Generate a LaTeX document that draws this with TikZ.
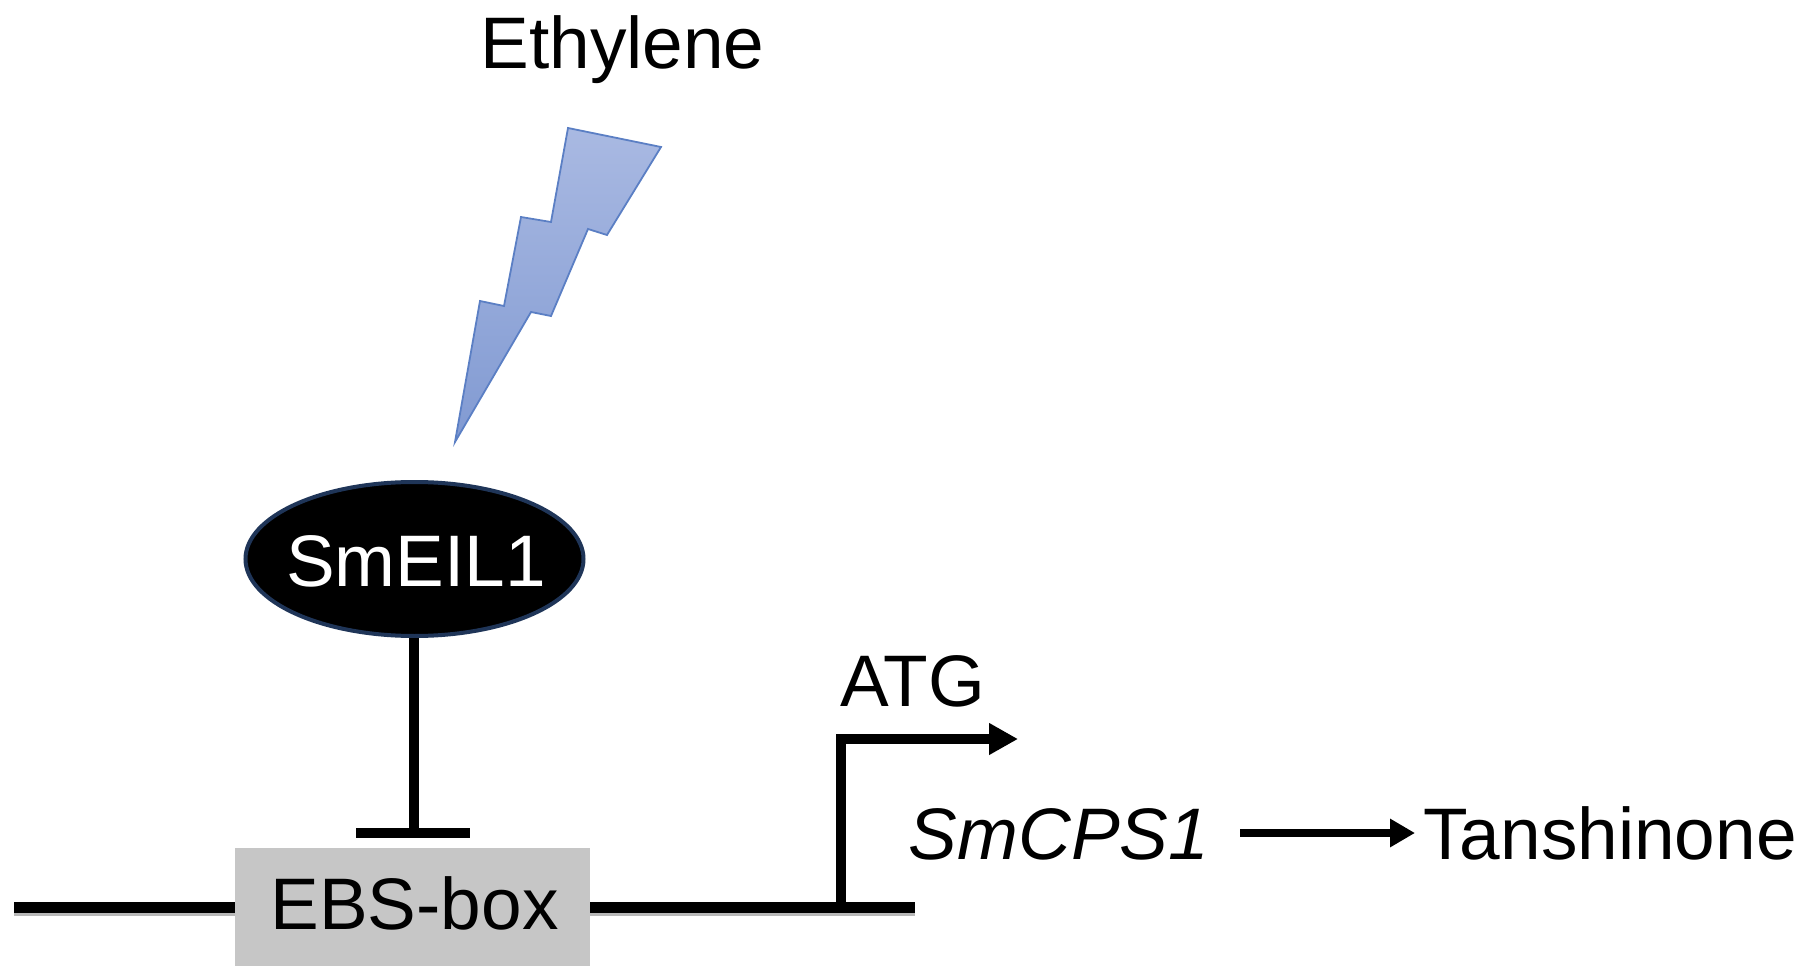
\documentclass[tikz,border=0pt]{standalone}
\usepackage{fontspec}
\setmainfont{Liberation Sans}
\usetikzlibrary{arrows.meta,shapes.geometric}
\definecolor{boxgrey}{HTML}{C6C6C6}
\definecolor{boltline}{HTML}{5B7FC4}
\definecolor{boltlight}{HTML}{A9B9E2}
\definecolor{boltdark}{HTML}{819AD2}
\definecolor{ringnavy}{HTML}{1F3558}
\tikzset{
  lbl/.style={inner sep=0pt,outer sep=0pt,anchor=base,font=\fontsize{73}{80}\selectfont,text=black},
  baseline line/.style={line width=11pt,black},
  prom/.style={line width=10pt,black},
  shadowline/.style={line width=3pt,black!28},
}
\begin{document}
\begin{tikzpicture}[x=1pt,y=-1pt]
\useasboundingbox (0,0) rectangle (1805,973);
\coordinate (b1) at (568,128);
\coordinate (b2) at (661,147);
\coordinate (b3) at (607,235);
\coordinate (b4) at (588,229);
\coordinate (b5) at (551,316);
\coordinate (b6) at (531,312);
\coordinate (b7) at (455,442);
\coordinate (b8) at (480,301);
\coordinate (b9) at (504,306);
\coordinate (b10) at (521,217);
\coordinate (b11) at (551,222);
\shade[shading angle=200,top color=boltlight,bottom color=boltdark]
  (b1)--(b2)--(b3)--(b4)--(b5)--(b6)--(b7)--(b8)--(b9)--(b10)--(b11)--cycle;
\draw[boltline,line width=1.8pt,line join=miter]
  (b1)--(b2)--(b3)--(b4)--(b5)--(b6)--(b7)--(b8)--(b9)--(b10)--(b11)--cycle;

\node[lbl] (eth) at (622.5,69) {Ethylene};

\node[ellipse,draw=ringnavy,fill=black,line width=4pt,minimum width=338pt,minimum height=154pt,inner sep=0pt] (eil) at (414.5,559) {};
\node[lbl,text=white] (eiltxt) at (416,586) {SmEIL1};

\node[fill=boxgrey,inner sep=0pt,minimum width=355pt,minimum height=118pt] (ebs) at (412.5,907) {};
\node[lbl] (ebstxt) at (414.5,929) {EBS-box};

% T-bar repression
\coordinate (barL) at (356,833);
\coordinate (barR) at (470,833);
\coordinate (barC) at (414,833);
\draw[line width=9.5pt,black] (eil.south -| barC) -- (barC);
\draw[line width=10pt,black] (barL) -- (barR);

% baseline
\coordinate (lineL) at (14,907);
\coordinate (lineR) at (915,907);
\coordinate (promB) at (841,907);
\coordinate (promT) at (841,739);
\coordinate (promE) at (1018,739);
\draw[shadowline] (14,914) -- (ebs.west |- 0,914);
\draw[shadowline] (ebs.east |- 0,914) -- (915,914);
\draw[baseline line] (lineL) -- (ebs.west |- lineL);
\draw[baseline line] (ebs.east |- lineR) -- (lineR);

% promoter arrow
\draw[prom,line join=miter,-{Triangle[length=29pt,width=30pt]}] (promB) -- (promT) -- (promE);

\node[lbl] (atg) at (913,706) {ATG};
\node[lbl,font=\fontsize{73}{80}\selectfont\itshape] (cps) at (1059,859) {SmCPS1};
\node[lbl] (tan) at (1610,859) {Tanshinone};
\coordinate (arS) at (1240,833);
\coordinate (arE) at (1415,833);
\draw[line width=7.5pt,black,-{Triangle[length=25pt,width=27pt]}] (arS) -- (arE);
\end{tikzpicture}
\end{document}
